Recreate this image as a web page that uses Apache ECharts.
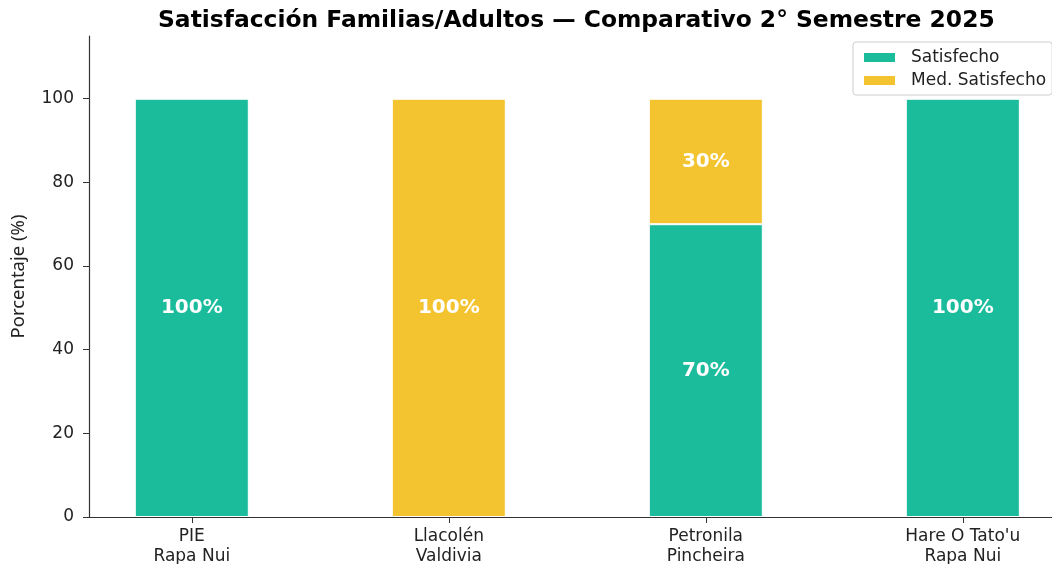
<!DOCTYPE html>
<html>
<head>
<meta charset="utf-8">
<script src="https://cdn.jsdelivr.net/npm/echarts@6/dist/echarts.min.js"></script>
<style>
  html, body { margin: 0; padding: 0; background: #fff; }
  #chart { width: 1052px; height: 564px; }
</style>
</head>
<body>
<div id="chart"></div>
<script>
// chart data
const categories = ["PIE\nRapa Nui", "Llacolén\nValdivia", "Petronila\nPincheira", "Hare O Tato'u\nRapa Nui"];
const satisfecho = [100, 0, 70, 100];
const medSatisfecho = [0, 100, 30, 0];
const yTicks = [0, 20, 40, 60, 80, 100];
const xTicks = [0, 1, 2, 3];

const font = "DejaVu Sans";
const green = "#1ABC9C";
const yellow = "#F4C430";

// value first, position second, so the stack runs on the y value
function toData(values) {
  return values.map((v, i) => ({
    value: [v, i],
    itemStyle: v === 0 ? { borderWidth: 0 } : {},
  }));
}

function barSeries(name, values, color) {
  return {
    name: name,
    type: "bar",
    stack: "total",
    barWidth: 114,
    encode: { x: 1, y: 0 },
    data: toData(values),
    itemStyle: {
      color: color,
      borderColor: "#fff",
      borderWidth: 1,
    },
    label: {
      show: true,
      position: "inside",
      color: "#fff",
      fontFamily: font,
      fontWeight: "bold",
      fontSize: 20,
      formatter: (p) => (p.value[0] === 0 ? "" : p.value[0] + "%"),
    },
  };
}

const chartInstance = echarts.init(document.getElementById("chart"));
const option = {
  animation: false,
  title: {
    text: "Satisfacción Familias/Adultos — Comparativo 2° Semestre 2025",
    left: 153,
    top: 4,
    textStyle: {
      fontFamily: font,
      fontWeight: "bold",
      fontSize: 23.4,
      color: "#000",
    },
  },
  legend: {
    orient: "vertical",
    left: 853,
    top: 42,
    icon: "rect",
    itemWidth: 33,
    itemHeight: 11,
    itemGap: 6,
    padding: [7, 6, 6, 9],
    borderColor: "#ccc",
    borderWidth: 1,
    borderRadius: 3,
    backgroundColor: "rgba(255,255,255,0.8)",
    textStyle: {
      fontFamily: font,
      fontSize: 17,
      color: "#222",
      padding: [0, 0, 0, 10],
    },
    data: ["Satisfecho", "Med. Satisfecho"],
  },
  grid: {
    left: 89,
    right: 0,
    top: 36,
    bottom: 47,
    outerBoundsMode: "none",
  },
  xAxis: {
    type: "value",
    min: -0.4,
    max: 3.347,
    splitLine: { show: false },
    axisLine: { show: true, onZero: false, lineStyle: { color: "#333", width: 1.2 } },
    axisTick: {
      show: true,
      customValues: xTicks,
      length: 6,
      lineStyle: { color: "#333" },
    },
    axisLabel: {
      customValues: xTicks,
      formatter: (v) => categories[Math.round(v)] || "",
      fontFamily: font,
      fontSize: 17,
      color: "#222",
      lineHeight: 20,
      margin: 10,
    },
  },
  yAxis: {
    type: "value",
    min: 0,
    max: 115,
    name: "Porcentaje (%)",
    nameLocation: "middle",
    nameGap: 61,
    nameTextStyle: {
      fontFamily: "Noto Sans",
      fontSize: 18.5,
      color: "#222",
    },
    splitLine: { show: false },
    axisLine: { show: true, onZero: false, lineStyle: { color: "#333", width: 1.2 } },
    axisTick: {
      show: true,
      customValues: yTicks,
      length: 6,
      lineStyle: { color: "#333" },
    },
    axisLabel: {
      customValues: yTicks,
      fontFamily: font,
      fontSize: 17,
      color: "#222",
      margin: 15,
    },
  },
  series: [
    barSeries("Satisfecho", satisfecho, green),
    barSeries("Med. Satisfecho", medSatisfecho, yellow),
  ],
};
chartInstance.setOption(option);
</script>
</body>
</html>
